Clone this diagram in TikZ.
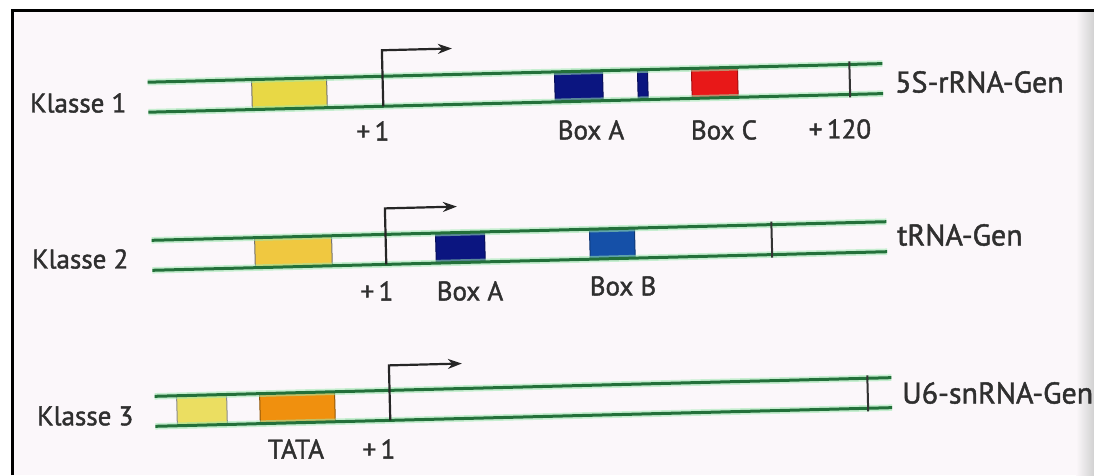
\documentclass[tikz,border=0pt]{standalone}
\usepackage{fontspec}
\setmainfont{PT Sans}
\newfontfamily\labfont{PT Sans}[FakeBold=1.5]
\usetikzlibrary{arrows.meta}
\definecolor{bg}{HTML}{FBF7FA}
\definecolor{dna}{HTML}{23703A}
\definecolor{dnaglow}{HTML}{9BE8AE}
\definecolor{txt}{HTML}{2F2F2F}
\definecolor{yelA}{HTML}{E8D845}
\definecolor{yelB}{HTML}{F0C840}
\definecolor{navy}{HTML}{0B1580}
\definecolor{boxblue}{HTML}{1550A8}
\definecolor{boxred}{HTML}{E81818}
\definecolor{tataorange}{HTML}{F0900E}
\begin{document}
\begin{tikzpicture}[x=1pt,y=-1pt,
  strand/.style={line width=3pt, draw=dna},
  glow/.style={line width=6.5pt, draw=dnaglow, opacity=0.55},
  elem/.style={line width=1pt},
  gtick/.style={draw=black!80, line width=2pt},
  prom/.style={draw=black!85, line width=2.2pt, -{Stealth[length=14pt,width=10pt]}},
  lbl/.style={text=txt, inner sep=0pt, font=\labfont\fontsize{27}{32}\selectfont},
  gene/.style={text=txt, inner sep=0pt, anchor=west, font=\labfont\fontsize{30}{35}\selectfont},
]
\fill[white] (0,0) rectangle (1094,475);
\fill[bg] (12,10) rectangle (1094,475);
\useasboundingbox (0,0) rectangle (1094,475);
\clip (0,0) rectangle (1094,475);
\fill[right color=black!18, left color=bg] (1076,12) rectangle (1094,475);

% ---------- Row 1 ----------
\begin{scope}[shift={(148,97.2)}, rotate=1.45]
  \filldraw[elem, fill=yelA, draw=black!55] (104,-15) rectangle (179,15);
  \filldraw[elem, fill=navy, draw=navy!70!black] (407,-15) rectangle (455,15);
  \filldraw[elem, fill=navy, draw=navy!70!black] (490,-15) rectangle (500,15);
  \filldraw[elem, fill=boxred, draw=boxred!70!black] (544,-15) rectangle (590,15);
  \draw[glow] (0,-15) -- (735,-15) (0,15) -- (735,15);
  \draw[strand] (0,-15) -- (735,-15) (0,15) -- (735,15);
  \draw[gtick] (702,-18) -- (702,18);
  \coordinate (r1b) at (235,15);
  \coordinate (r1t) at (235,-41);
  \coordinate (r1e) at (305,-41);
  \draw[prom] (r1b) -- (r1t) -- (r1e);
\end{scope}

% ---------- Row 2 ----------
\begin{scope}[shift={(152,255.3)}, rotate=1.45]
  \filldraw[elem, fill=yelB, draw=black!55] (103,-15) rectangle (180,15);
  \filldraw[elem, fill=navy, draw=navy!70!black] (284,-15) rectangle (333,15);
  \filldraw[elem, fill=boxblue, draw=boxblue!70!black] (438,-15) rectangle (483,15);
  \draw[glow] (0,-15) -- (735,-15) (0,15) -- (735,15);
  \draw[strand] (0,-15) -- (735,-15) (0,15) -- (735,15);
  \draw[gtick] (620,-18) -- (620,18);
  \coordinate (r2b) at (234,15);
  \coordinate (r2t) at (234,-41);
  \coordinate (r2e) at (306,-41);
  \draw[prom] (r2b) -- (r2t) -- (r2e);
\end{scope}

% ---------- Row 3 ----------
\begin{scope}[shift={(155,411.3)}, rotate=1.45]
  \filldraw[elem, fill=yelA!85!white, draw=black!45] (22,-15) rectangle (72,15);
  \filldraw[elem, fill=tataorange, draw=tataorange!60!black] (105,-15) rectangle (180,15);
  \draw[glow] (0,-15) -- (737,-15) (0,15) -- (737,15);
  \draw[strand] (0,-15) -- (737,-15) (0,15) -- (737,15);
  \draw[gtick] (713,-18) -- (713,18);
  \coordinate (r3b) at (235,15);
  \coordinate (r3t) at (235,-40);
  \coordinate (r3e) at (308,-40);
  \draw[prom] (r3b) -- (r3t) -- (r3e);
\end{scope}

% ---------- Labels ----------
\node[lbl, anchor=west] (k1) at (30,103) {Klasse 1};
\node[lbl] (p1) at (373,131) {+\,1};
\node[lbl] (ba1) at (591,130) {Box A};
\node[lbl] (bc1) at (724,130) {Box C};
\node[lbl] (e1) at (840,129) {+\,120};
\node[gene] (g1) at (895,82) {5S-rRNA-Gen};

\node[lbl, anchor=west] (k2) at (32,259) {Klasse 2};
\node[lbl] (p2) at (377,291) {+\,1};
\node[lbl] (ba2) at (470,291) {Box A};
\node[lbl] (bb2) at (623,286) {Box B};
\node[gene] (g2) at (897,235) {tRNA-Gen};

\node[lbl, anchor=west] (k3) at (37,416) {Klasse 3};
\node[lbl] (t3) at (296,449) {TATA};
\node[lbl] (p3) at (379,449) {+\,1};
\node[gene] (g3) at (902,393) {U6-snRNA-Gen};

% ---------- Frame ----------
\draw[line width=3pt] (12,475) -- (12,10) -- (1094,10);
\end{tikzpicture}
\end{document}
